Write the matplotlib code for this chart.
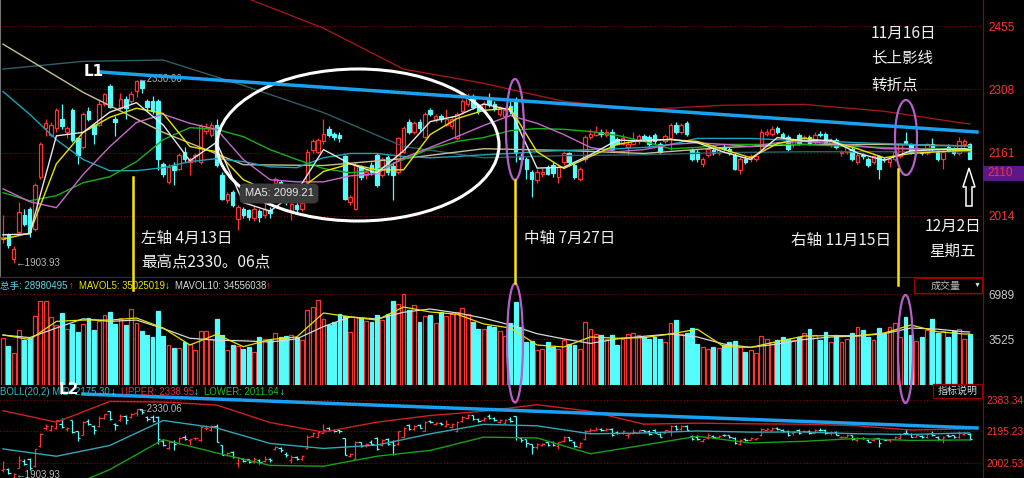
import matplotlib
matplotlib.use('Agg')
import matplotlib.pyplot as plt
from matplotlib.patches import Rectangle, Ellipse, Polygon
from matplotlib.lines import Line2D

plt.rcParams['font.family'] = ['Liberation Sans', 'DejaVu Sans']

W, H = 1024, 478
RED = '#ff3232'
CYAN = '#54fcfc'
GRID = '#8c0000'
BORDER = '#9a0000'
CJK = ['Noto Sans CJK SC', 'DejaVu Sans']
MIXED = ['Liberation Sans', 'Noto Sans CJK SC', 'DejaVu Sans']

# daily candles, about 10 Mar .. 2 Dec 2016
opens = [1960, 1970, 1914, 1977, 2016, 2030, 1984, 2105, 2217, 2203,
         2217, 2238, 2210, 2261, 2194, 2175, 2257, 2226, 2226, 2275,
         2315, 2240, 2264, 2285, 2280, 2303, 2327, 2280, 2280, 2280,
         2135, 2093, 2130, 2124, 2163, 2140, 2152, 2140, 2212, 2203,
         2226, 2110, 2052, 2070, 2007, 2030, 2028, 2010, 2025, 2015,
         2028, 2091, 2093, 2060, 2023, 2040, 2030, 2093, 2168, 2163,
         2187, 2215, 2205, 2203, 2152, 2047, 2031, 2128, 2110, 2133,
         2156, 2110, 2150, 2130, 2117, 2163, 2233, 2210, 2233, 2198,
         2259, 2238, 2245, 2226, 2222, 2194, 2257, 2275, 2292, 2268,
         2261, 2285, 2273, 2250, 2245, 2270, 2285, 2152, 2147, 2117,
         2098, 2112, 2128, 2133, 2105, 2138, 2159, 2133, 2100, 2147,
         2198, 2203, 2210, 2203, 2210, 2192, 2182, 2175, 2182, 2187,
         2200, 2198, 2202, 2180, 2187, 2194, 2226, 2210, 2229, 2168,
         2163, 2135, 2156, 2168, 2159, 2175, 2170, 2156, 2121, 2147,
         2145, 2147, 2170, 2205, 2205, 2217, 2205, 2198, 2182, 2203,
         2194, 2198, 2187, 2205, 2205, 2182, 2191, 2161, 2163, 2170,
         2140, 2156, 2145, 2140, 2152, 2147, 2140, 2147, 2152, 2187,
         2180, 2163, 2165, 2159, 2182, 2163, 2147, 2175, 2170, 2159,
         2180, 2180]
closes = [1966, 1947, 1937, 2023, 1996, 1977, 2086, 2180, 2229, 2226,
          2261, 2222, 2217, 2191, 2156, 2250, 2240, 2205, 2275, 2298,
          2268, 2233, 2285, 2264, 2298, 2327, 2310, 2268, 2257, 2147,
          2112, 2128, 2120, 2156, 2147, 2147, 2155, 2222, 2217, 2226,
          2133, 2054, 2065, 2040, 2035, 2016, 2012, 2030, 2012, 2030,
          2020, 2100, 2082, 2050, 2042, 2030, 2045, 2163, 2187, 2191,
          2205, 2203, 2198, 2194, 2054, 2058, 2133, 2105, 2117, 2117,
          2086, 2145, 2117, 2110, 2194, 2217, 2210, 2229, 2217, 2250,
          2250, 2245, 2238, 2240, 2238, 2250, 2280, 2292, 2268, 2257,
          2273, 2273, 2264, 2264, 2261, 2257, 2159, 2145, 2124, 2100,
          2117, 2117, 2112, 2114, 2128, 2159, 2140, 2105, 2124, 2198,
          2205, 2210, 2205, 2210, 2170, 2182, 2194, 2180, 2190, 2200,
          2194, 2180, 2187, 2163, 2200, 2226, 2210, 2226, 2205, 2147,
          2147, 2147, 2170, 2159, 2168, 2170, 2159, 2124, 2145, 2140,
          2152, 2152, 2210, 2210, 2215, 2210, 2198, 2170, 2191, 2182,
          2198, 2182, 2203, 2203, 2182, 2190, 2175, 2163, 2175, 2147,
          2156, 2152, 2133, 2152, 2124, 2145, 2147, 2163, 2180, 2184,
          2163, 2170, 2161, 2180, 2170, 2147, 2163, 2168, 2159, 2187,
          2187, 2147]
highs = [2015, 1975, 1945, 2047, 2030, 2035, 2090, 2185, 2240, 2232,
         2265, 2275, 2222, 2265, 2198, 2255, 2268, 2230, 2285, 2300,
         2320, 2245, 2300, 2292, 2303, 2330.06, 2328, 2285, 2292, 2285,
         2140, 2135, 2140, 2160, 2175, 2150, 2160, 2228, 2230, 2232,
         2238, 2115, 2070, 2075, 2040, 2035, 2030, 2038, 2030, 2045,
         2035, 2105, 2098, 2070, 2050, 2048, 2055, 2170, 2192, 2195,
         2238, 2222, 2210, 2208, 2156, 2062, 2138, 2132, 2122, 2140,
         2160, 2150, 2155, 2140, 2198, 2222, 2238, 2235, 2240, 2255,
         2265, 2250, 2250, 2262, 2245, 2255, 2285, 2300, 2296, 2275,
         2280, 2300, 2280, 2270, 2268, 2280, 2290, 2160, 2150, 2120,
         2122, 2125, 2132, 2138, 2132, 2165, 2163, 2138, 2128, 2203,
         2215, 2222, 2215, 2215, 2215, 2198, 2205, 2187, 2210, 2205,
         2205, 2202, 2206, 2185, 2205, 2230, 2232, 2230, 2235, 2172,
         2170, 2150, 2182, 2172, 2175, 2180, 2175, 2160, 2150, 2152,
         2158, 2156, 2215, 2215, 2222, 2222, 2210, 2202, 2196, 2206,
         2203, 2202, 2208, 2212, 2208, 2196, 2195, 2166, 2180, 2173,
         2160, 2160, 2150, 2156, 2156, 2150, 2150, 2166, 2184, 2210,
         2184, 2175, 2170, 2184, 2194, 2168, 2166, 2180, 2175, 2198,
         2192, 2184]
lows = [1952, 1940, 1904, 1975, 1990, 1965, 1980, 2100, 2200, 2198,
        2210, 2215, 2195, 2185, 2135, 2170, 2235, 2180, 2222, 2270,
        2265, 2200, 2260, 2240, 2275, 2290, 2300, 2258, 2250, 2120,
        2105, 2088, 2085, 2120, 2140, 2110, 2140, 2135, 2205, 2198,
        2128, 2050, 2045, 2035, 1982, 2010, 2005, 2002, 2000, 2008,
        2010, 2080, 2070, 2040, 2005, 2020, 2025, 2088, 2160, 2160,
        2182, 2198, 2190, 2185, 2050, 2040, 2028, 2098, 2100, 2110,
        2080, 2105, 2110, 2050, 2112, 2160, 2205, 2205, 2212, 2195,
        2245, 2232, 2232, 2222, 2215, 2190, 2250, 2270, 2262, 2250,
        2255, 2268, 2258, 2245, 2238, 2250, 2140, 2130, 2100, 2058,
        2090, 2105, 2108, 2105, 2090, 2132, 2135, 2100, 2095, 2140,
        2192, 2200, 2198, 2198, 2165, 2178, 2178, 2155, 2180, 2182,
        2190, 2175, 2182, 2158, 2183, 2168, 2205, 2205, 2200, 2142,
        2140, 2128, 2150, 2155, 2155, 2165, 2155, 2120, 2112, 2135,
        2140, 2142, 2165, 2200, 2200, 2205, 2192, 2165, 2175, 2178,
        2190, 2178, 2182, 2198, 2178, 2175, 2170, 2152, 2158, 2142,
        2135, 2147, 2128, 2135, 2100, 2140, 2128, 2142, 2148, 2180,
        2158, 2158, 2155, 2155, 2165, 2142, 2124, 2163, 2155, 2155,
        2175, 2145]
volumes = [3619, 3000, 2460, 4235, 3465, 3619, 5313, 6468, 6468, 5236,
           4620, 5544, 4312, 4697, 4081, 4697, 5159, 4235, 4928, 5390,
           5621, 4697, 5159, 4620, 5852, 4774, 4158, 3850, 3696, 5698,
           3773, 3080, 2849, 2849, 3311, 3157, 2695, 4158, 4158, 3542,
           5082, 3850, 2695, 3080, 3003, 2772, 2926, 2541, 3696, 3542,
           3465, 4004, 3696, 3773, 3850, 3696, 3465, 5775, 6006, 6545,
           5082, 4620, 4851, 5467, 5313, 4081, 5236, 5159, 4928, 4851,
           5390, 5005, 5467, 6468, 6237, 7007, 5775, 6160, 4851, 5313,
           5390, 4774, 5621, 5313, 5467, 5621, 5929, 5467, 4851, 4312,
           4312, 4543, 4466, 4158, 3773, 4800, 6391, 4466, 3311, 3388,
           2695, 2772, 3311, 2926, 2772, 3465, 3157, 3080, 2772, 4851,
           4312, 3927, 3850, 3542, 3850, 3080, 3542, 3927, 4004, 3850,
           3696, 3542, 3696, 3542, 3311, 4774, 5005, 3927, 4004, 4389,
           3157, 2926, 2772, 2926, 2849, 3080, 3311, 3388, 2926, 2541,
           2695, 2464, 3773, 3542, 3311, 3465, 3696, 3542, 3465, 3696,
           4004, 4312, 3850, 3465, 4081, 3311, 3850, 3311, 3542, 4004,
           4466, 4235, 3696, 3465, 4389, 3927, 4466, 4774, 3696, 5236,
           3850, 3388, 3696, 4235, 5082, 4004, 4158, 3696, 4158, 4312,
           3542, 3927]

# indicator lines, read at every 5th / 10th / 15th session
fast_idx = list(range(0, 181, 5)) + [181]
ma5 = [1970, 1972, 2200, 2208, 2255, 2277, 2225, 2142, 2185, 2045,
       2025, 2070, 2168, 2135, 2114, 2165, 2233, 2246, 2274, 2260,
       2125, 2127, 2156, 2190, 2188, 2192, 2184, 2162, 2145, 2196,
       2188, 2190, 2160, 2143, 2165, 2168, 2170, 2168]
ma10 = [1960, 1974, 2135, 2208, 2243, 2264, 2252, 2175, 2163, 2098,
        2070, 2070, 2117, 2135, 2121, 2121, 2203, 2240, 2259, 2264,
        2163, 2124, 2152, 2180, 2191, 2191, 2187, 2168, 2149, 2182,
        2194, 2187, 2170, 2149, 2159, 2163, 2166, 2166]
ma20 = [2077, 2047, 2033, 2110, 2175, 2231, 2250, 2229, 2215, 2145,
        2098, 2093, 2093, 2107, 2112, 2149, 2173, 2198, 2224, 2247,
        2229, 2203, 2173, 2163, 2168, 2180, 2184, 2180, 2175, 2184,
        2187, 2182, 2177, 2170, 2170, 2168, 2168, 2168]
ma30 = [2068, 2049, 2061, 2091, 2105, 2140, 2191, 2219, 2215, 2198,
        2168, 2145, 2124, 2114, 2121, 2145, 2170, 2187, 2196, 2212,
        2217, 2215, 2210, 2201, 2187, 2170, 2173, 2180, 2180, 2180,
        2180, 2177, 2175, 2173, 2170, 2170, 2170, 2170]
ma60 = [2303, 2250, 2191, 2145, 2119, 2119, 2126, 2140, 2147, 2140,
        2128, 2126, 2149, 2159, 2159, 2152, 2149, 2152, 2156, 2159,
        2163, 2166, 2168, 2170, 2173, 2180, 2194, 2194, 2194, 2191,
        2189, 2187, 2184, 2182, 2180, 2177, 2177, 2177]

slow_idx = list(range(0, 181, 15)) + [181]
ma_khaki = [2413, 2301, 2208, 2133, 2131, 2147, 2170, 2166, 2159, 2173,
            2180, 2180, 2177, 2177]
ma120 = [2355, 2373, 2376, 2317, 2254, 2175, 2149, 2154, 2156, 2161,
         2163, 2163, 2163, 2163]
ma250_idx = list(range(30, 181, 15)) + [181]
ma250 = [2590, 2523, 2450, 2355, 2322, 2280, 2261, 2271, 2273, 2257,
         2229, 2228]

vol_idx = fast_idx
mavol5 = [3850, 3500, 4900, 5000, 5000, 5159, 4389, 3080, 3900, 2950,
          3500, 3700, 5544, 5250, 5000, 6006, 5621, 5450, 4700, 4389,
          3080, 2926, 3700, 3600, 3650, 3927, 4300, 2950, 2900, 3350,
          3773, 3800, 3800, 4000, 4620, 4100, 3927, 3927]
mavol10 = [3850, 3650, 4389, 5100, 4900, 5000, 4350, 3600, 3450, 3400,
           3311, 3550, 4500, 5236, 5082, 5600, 5852, 5550, 5150, 4620,
           3950, 3550, 3200, 3550, 3750, 3927, 3700, 3150, 2900, 3150,
           3500, 3696, 3773, 3950, 4389, 4300, 4100, 4081]

boll_idx = list(range(0, 181, 10)) + [181]
boll_up = [2319, 2250, 2375, 2371, 2353, 2248, 2190, 2250, 2290, 2316,
           2355, 2315, 2238, 2244, 2240, 2238, 2228, 2203, 2209, 2209]
boll_mid = [2089, 2045, 2110, 2260, 2215, 2122, 2092, 2112, 2180, 2237,
            2228, 2180, 2185, 2197, 2190, 2191, 2180, 2176, 2185, 2185]
boll_low = [1860, 1830, 1965, 2145, 2065, 1990, 1985, 2045, 2080, 2160,
            2155, 2060, 2112, 2165, 2125, 2135, 2152, 2140, 2143, 2143]


def fxy(x, y):
    return x / W, 1 - y / H


def text(x, y, s, **kw):
    fx, fy = fxy(x, y)
    kw.setdefault('va', 'center')
    fig.text(fx, fy, s, **kw)


fig = plt.figure(figsize=(W / 100, H / 100), dpi=100, facecolor='black')
ax = fig.add_axes([0, 1 - 277 / H, 983 / W, 277 / H])
axv = fig.add_axes([0, 1 - 385 / H, 983 / W, 107 / H])
axb = fig.add_axes([0, 0, 983 / W, 93 / H])

for a in (ax, axv, axb):
    a.set_facecolor('black')
    a.set_xlim(-0.56, 183.5)
    for s in a.spines.values():
        s.set_visible(False)
    a.spines['right'].set_visible(True)
    a.spines['right'].set_color(BORDER)
    a.tick_params(axis='x', bottom=False, labelbottom=False)
    a.yaxis.tick_right()
    a.tick_params(axis='y', length=0, pad=4, labelsize=8.5, labelcolor=RED)
    a.grid(axis='y', color=GRID, linestyle=(0, (1, 2)), linewidth=0.8)
    a.set_axisbelow(True)
for a in (ax, axv):
    a.spines['bottom'].set_visible(True)
    a.spines['bottom'].set_color(BORDER)
ax.spines['left'].set_visible(True)
ax.spines['left'].set_color('#707070')

n = len(closes)
up = [c >= o for o, c in zip(opens, closes)]

# main candles
for i in range(n):
    col = RED if up[i] else CYAN
    ax.vlines(i, lows[i], highs[i], color=col, lw=0.9, zorder=3)
    lo, hi = min(opens[i], closes[i]), max(opens[i], closes[i])
    ax.add_patch(Rectangle((i - 0.33, lo), 0.66, max(hi - lo, 1.0),
                           facecolor='black' if up[i] else col,
                           edgecolor=col, lw=0.9, zorder=4))

ax.plot(ma250_idx, ma250, color='#a01818', lw=1.0, zorder=5)
ax.plot(slow_idx, ma120, color='#2f5f66', lw=1.0, zorder=5)
ax.plot(slow_idx, ma_khaki, color='#c8c090', lw=1.0, zorder=5)
ax.plot(fast_idx, ma60, color='#1aa4b8', lw=1.0, zorder=5)
ax.plot(fast_idx, ma30, color='#18b018', lw=1.0, zorder=5)
ax.plot(fast_idx, ma20, color='#c868d0', lw=1.0, zorder=5)
ax.plot(fast_idx, ma10, color='#e6e600', lw=1.0, zorder=5)
ax.plot(fast_idx, ma5, color='#e8e8e8', lw=1.0, zorder=5)

ax.set_ylim(1872, 2515.5)
ax.set_yticks([2014, 2161, 2308, 2455])
ax.text(25.1, 2331, '←2330.06', color='#b8b8b8', fontsize=7, va='center', zorder=6)
ax.text(2.2, 1903.93, '←1903.93', color='#b8b8b8', fontsize=7, va='center', zorder=6)

# volume
axv.bar(range(n), volumes, width=0.72,
        color=['black' if u else CYAN for u in up],
        edgecolor=[RED if u else CYAN for u in up], lw=0.9, zorder=3)
axv.plot(vol_idx, mavol10, color='#d8d8d8', lw=0.9, zorder=4)
axv.plot(vol_idx, mavol5, color='#e6e600', lw=0.9, zorder=4)
axv.set_ylim(0, 8239)
axv.set_yticks([3525, 6989])
axv.tick_params(axis='y', labelcolor='#c8c8c8')

# BOLL panel with OHLC bars
for i in range(n):
    col = RED if up[i] else CYAN
    axb.vlines(i, lows[i], highs[i], color=col, lw=0.9, zorder=3)
    axb.hlines(opens[i], i - 0.45, i, color=col, lw=0.9, zorder=3)
    axb.hlines(closes[i], i, i + 0.45, color=col, lw=0.9, zorder=3)
axb.plot(boll_idx, boll_up, color='#d02020', lw=1.0, zorder=4)
axb.plot(boll_idx, boll_mid, color='#2fa8b8', lw=1.0, zorder=4)
axb.plot(boll_idx, boll_low, color='#18a018', lw=1.0, zorder=4)
axb.set_ylim(1914.1, 2473.6)
axb.set_yticks([2002.53, 2195.23, 2383.34])
axb.set_yticklabels(['2002.53', '2195.23', '2383.34'])
axb.tick_params(axis='y', labelsize=7.4, pad=2.5)
axb.text(25.1, 2331, '←2330.06', color='#b8b8b8', fontsize=7, va='center', zorder=6)
axb.text(2.2, 1935, '←1903.93', color='#b8b8b8', fontsize=7, va='center', zorder=6)

# right-hand price tag
fig.add_artist(Rectangle(fxy(983, 181), 41 / W, 15 / H, transform=fig.transFigure,
                         facecolor='#5e1787', edgecolor='none'))
text(987, 173.5, '2110', color=RED, fontsize=8.5)

# panel headers
hdr = dict(fontsize=6.9, family=MIXED)
text(0, 286, '总手: 28980495', color='#5fd8e8', **hdr)
text(69, 286, '↑', color=RED, **hdr)
text(79, 286, 'MAVOL5: 35025019', color='#e6e600', **hdr)
text(165, 286, '↓', color=CYAN, **hdr)
text(175, 286, 'MAVOL10: 34556038', color='#d8d8d8', **hdr)
text(266, 286, '↑', color=RED, **hdr)
text(0, 392, 'BOLL(20,2) MID: 2175.30', color='#38b8c8', **hdr)
text(111, 392, '↓', color=CYAN, **hdr)
text(121, 392, 'UPPER: 2338.95', color='#e03030', **hdr)
text(194, 392, '↓', color=CYAN, **hdr)
text(204, 392, 'LOWER: 2011.64', color='#20c020', **hdr)
text(280, 392, '↓', color=CYAN, **hdr)

fig.add_artist(Rectangle(fxy(914, 293), 68 / W, 15 / H, transform=fig.transFigure,
                         facecolor='black', edgecolor=BORDER, lw=0.9))
text(946, 286, '成交量', color='#b8b8b8', ha='center', fontsize=7.2, family=CJK)
text(977, 285, '▼', color='#e0e0e0', ha='center', fontsize=5)
fig.add_artist(Rectangle(fxy(933, 398), 49 / W, 14 / H, transform=fig.transFigure,
                         facecolor='black', edgecolor=BORDER, lw=0.9))
text(958, 391, '指标说明', color='#d8d8d8', ha='center', fontsize=7.2, family=CJK)

# tooltip
text(279, 193.5, 'MA5: 2099.21', color='#e8e8e8', ha='center', fontsize=8,
     bbox=dict(boxstyle='round,pad=0.45', facecolor='#3a3a3a', edgecolor='none'))

# hand-drawn markup
def fig_line(x0, y0, x1, y1, **kw):
    a, b = fxy(x0, y0)
    c, d = fxy(x1, y1)
    fig.add_artist(Line2D([a, c], [b, d], transform=fig.transFigure, **kw))


def fig_ellipse(cx, cy, w, h, **kw):
    fig.add_artist(Ellipse(fxy(cx, cy), w / W, h / H, transform=fig.transFigure,
                           fill=False, **kw))


fig_line(100, 72, 977, 132, color='#1aa0f0', lw=2.5)
fig_line(83, 394, 977, 428, color='#1aa0f0', lw=2.5)
text(84, 71, 'L1', color='white', fontsize=11, fontweight='bold', family='DejaVu Sans')
text(59, 389, 'L2', color='white', fontsize=11, fontweight='bold', family='DejaVu Sans')

for x, y0, y1 in [(133, 177, 290), (515, 180, 283), (898, 169, 285)]:
    fig_line(x, y0, x, y1, color='#ffe600', lw=1.8)

fig_ellipse(358, 145, 282, 152, edgecolor='white', lw=2.2)
fig_ellipse(515, 129.5, 18, 101, edgecolor='#b55fc8', lw=1.6)
fig_ellipse(906, 137.5, 22, 75, edgecolor='#b55fc8', lw=1.6)
fig_ellipse(515, 343, 16, 119, edgecolor='#b55fc8', lw=1.6)
fig_ellipse(905.5, 349, 15, 108, edgecolor='#b55fc8', lw=1.6)

arrow = [(969, 168), (975, 187), (972, 187), (972, 206), (966, 206), (966, 187), (963, 187)]
fig.add_artist(Polygon([fxy(x, y) for x, y in arrow], closed=True, transform=fig.transFigure,
                       facecolor='black', edgecolor='white', lw=1.1))

note = dict(color='#f0f0f0', fontsize=11.2, family=CJK)
text(141, 238, '左轴 4月13日', **note)
text(141, 263, '最高点2330。06点', **note)
text(524, 238, '中轴 7月27日', **note)
text(791, 240, '右轴 11月15日', **note)
text(871, 33, '11月16日', **note)
text(871, 58, '长上影线', **note)
text(871, 85, '转折点', **note)
text(925, 226, '12月2日', **note)
text(929, 251, '星期五', **note)

fig.savefig('out.png', dpi=100, facecolor='black')
